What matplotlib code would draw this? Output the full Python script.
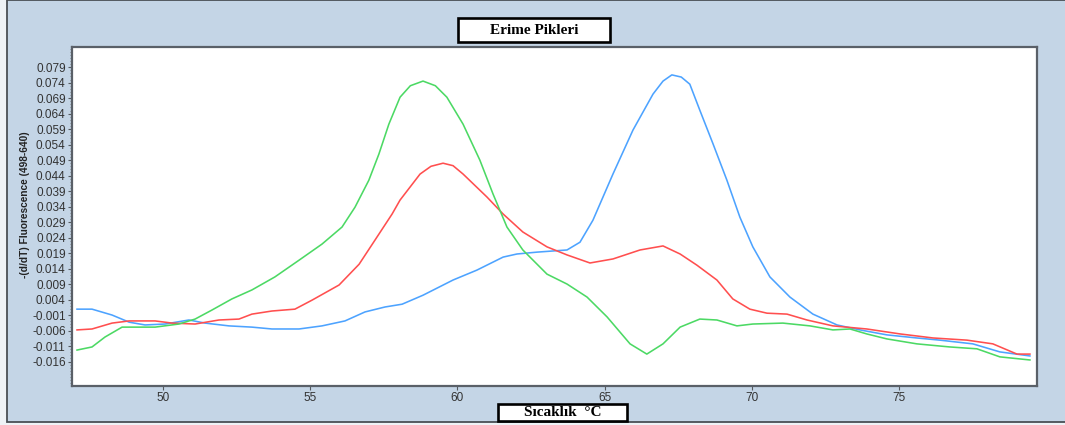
import numpy as np
import matplotlib.pyplot as plt
from matplotlib.patches import Rectangle

# erime egrileri, okunan degerler (sicaklik, -dF/dT)
t_green = [47.08, 47.59, 48.03, 48.61, 49.73, 50.54, 51.09, 51.66, 52.34, 53.02,
           53.80, 54.62, 55.40, 56.08, 56.52, 56.99, 57.33, 57.67, 58.05, 58.40,
           58.83, 59.25, 59.64, 60.19, 60.76, 61.21, 61.68, 62.22, 63.04, 63.72,
           64.40, 65.08, 65.86, 66.43, 66.98, 67.56, 68.23, 68.81, 69.49, 70.03,
           71.05, 71.97, 72.75, 73.33, 73.90, 74.58, 75.60, 76.72, 77.64, 78.42,
           79.44]
y_green = [-0.0123, -0.0113, -0.0081, -0.0049, -0.0049, -0.0039, -0.0023, 0.0006, 0.0042, 0.0071,
           0.0113, 0.0167, 0.0219, 0.0274, 0.0338, 0.0425, 0.0509, 0.0606, 0.0693, 0.0730,
           0.0745, 0.0730, 0.0693, 0.0606, 0.0490, 0.0380, 0.0274, 0.0200, 0.0122, 0.0090,
           0.0048, -0.0016, -0.0103, -0.0136, -0.0103, -0.0049, -0.0023, -0.0026, -0.0045, -0.0039,
           -0.0036, -0.0045, -0.0058, -0.0055, -0.0071, -0.0087, -0.0103, -0.0113, -0.0119, -0.0145,
           -0.0155]

t_red = [47.08, 47.59, 48.27, 48.85, 49.73, 50.31, 51.09, 51.90, 52.58, 53.02,
         53.70, 54.48, 55.06, 55.98, 56.66, 57.20, 57.78, 58.05, 58.73, 59.10,
         59.51, 59.85, 60.19, 61.00, 61.55, 62.22, 63.04, 63.72, 64.50, 65.28,
         66.20, 66.98, 67.56, 68.13, 68.81, 69.35, 69.93, 70.51, 71.19, 71.87,
         72.75, 73.90, 75.03, 76.15, 77.30, 78.18, 79.00, 79.44]
y_red = [-0.0058, -0.0055, -0.0036, -0.0029, -0.0029, -0.0036, -0.0039, -0.0026, -0.0023, -0.0007,
         0.0003, 0.0009, 0.0038, 0.0087, 0.0154, 0.0232, 0.0316, 0.0361, 0.0445, 0.0470,
         0.0480, 0.0472, 0.0445, 0.0371, 0.0316, 0.0258, 0.0210, 0.0184, 0.0158, 0.0171,
         0.0200, 0.0213, 0.0187, 0.0151, 0.0103, 0.0042, 0.0009, -0.0004, -0.0007, -0.0026,
         -0.0045, -0.0055, -0.0071, -0.0084, -0.0091, -0.0103, -0.0136, -0.0136]

t_blue = [47.08, 47.59, 48.27, 48.85, 49.39, 50.07, 50.88, 51.43, 52.24, 53.02,
          53.70, 54.62, 55.40, 56.18, 56.86, 57.54, 58.12, 58.83, 59.85, 60.66,
          61.55, 62.02, 62.70, 63.72, 64.16, 64.60, 65.28, 65.96, 66.64, 66.98,
          67.28, 67.60, 67.89, 68.23, 68.68, 69.15, 69.59, 70.03, 70.61, 71.29,
          72.07, 72.89, 73.67, 74.58, 75.60, 76.38, 77.50, 78.42, 79.44]
y_blue = [0.0009, 0.0009, -0.0010, -0.0033, -0.0042, -0.0039, -0.0026, -0.0036, -0.0045, -0.0049,
          -0.0055, -0.0055, -0.0045, -0.0029, 0.0000, 0.0016, 0.0025, 0.0054, 0.0103, 0.0135,
          0.0177, 0.0187, 0.0193, 0.0200, 0.0225, 0.0296, 0.0445, 0.0587, 0.0703, 0.0745,
          0.0765, 0.0758, 0.0735, 0.0651, 0.0542, 0.0425, 0.0306, 0.0210, 0.0113, 0.0048,
          -0.0007, -0.0042, -0.0058, -0.0074, -0.0084, -0.0091, -0.0103, -0.0129, -0.0142]

y_ticks = np.round(np.arange(-0.016, 0.0800, 0.005), 3)
x_ticks = [50, 55, 60, 65, 70, 75]

plt.rcParams['font.family'] = ['Liberation Sans', 'DejaVu Sans']
plt.rcParams['axes.unicode_minus'] = False

W, H = 1065, 425
fig = plt.figure(figsize=(W / 100, H / 100), dpi=100, facecolor='#EEF2F6')

def px(x0, y0, x1, y1):
    # piksel kutusu -> figure koordinatlari
    return (x0 / W, 1 - y1 / H, (x1 - x0) / W, (y1 - y0) / H)

bx = px(7, 0, 1066, 422)
fig.patches.append(Rectangle(bx[:2], bx[2], bx[3], transform=fig.transFigure,
                             facecolor='#C4D5E6', edgecolor='#4A4F55', linewidth=1.3, zorder=-5))

ax = fig.add_axes(px(72, 47, 1037, 386))
ax.set_zorder(2)
ax.plot(t_blue, y_blue, color='#4DA3FF', lw=1.15)
ax.plot(t_red, y_red, color='#FF4F4F', lw=1.15)
ax.plot(t_green, y_green, color='#4CD964', lw=1.15)

ax.set_xlim(46.91, 79.68)
ax.set_ylim(-0.0239, 0.0855)
ax.set_yticks(y_ticks)
ax.set_yticklabels(['%.3f' % v for v in y_ticks])
ax.set_yticks(np.arange(-0.023, 0.085, 0.001), minor=True)
ax.set_xticks(x_ticks)
ax.set_xticklabels([str(v) for v in x_ticks])
ax.tick_params(axis='both', which='major', labelsize=8.5, colors='#555A60',
               labelcolor='#333333', length=3, width=0.8, pad=1.5)
ax.tick_params(axis='y', which='minor', length=1.5, width=0.6, colors='#777777')
ax.tick_params(axis='x', pad=1.5)
for s in ax.spines.values():
    s.set_color('#5A6068')
    s.set_linewidth(1.6)

fig.text(0.0235, 0.518, '-(d/dT) Fluorescence (498-640)',
         rotation=90, ha='center', va='center', fontsize=7.3, fontweight='bold', color='#222222')

# baslik kutusu
tb = px(458, 18, 610, 42)
fig.patches.append(Rectangle(tb[:2], tb[2], tb[3], transform=fig.transFigure,
                             facecolor='white', edgecolor='black', linewidth=1.9, zorder=1))
fig.text(534 / W, 1 - 30.5 / H, 'Erime Pikleri', ha='center', va='center', fontsize=11,
         fontweight='bold', family='Liberation Serif', zorder=6)

# x ekseni etiket kutusu
xb = px(498, 404, 627, 421)
fig.patches.append(Rectangle(xb[:2], xb[2], xb[3], transform=fig.transFigure,
                             facecolor='white', edgecolor='black', linewidth=1.9, zorder=1))
fig.text(562.5 / W, 1 - 413 / H, 'Sıcaklık  °C', ha='center', va='center', fontsize=11,
         fontweight='bold', family='Liberation Serif', zorder=6)

plt.savefig('out.png', dpi=100, facecolor=fig.get_facecolor())
